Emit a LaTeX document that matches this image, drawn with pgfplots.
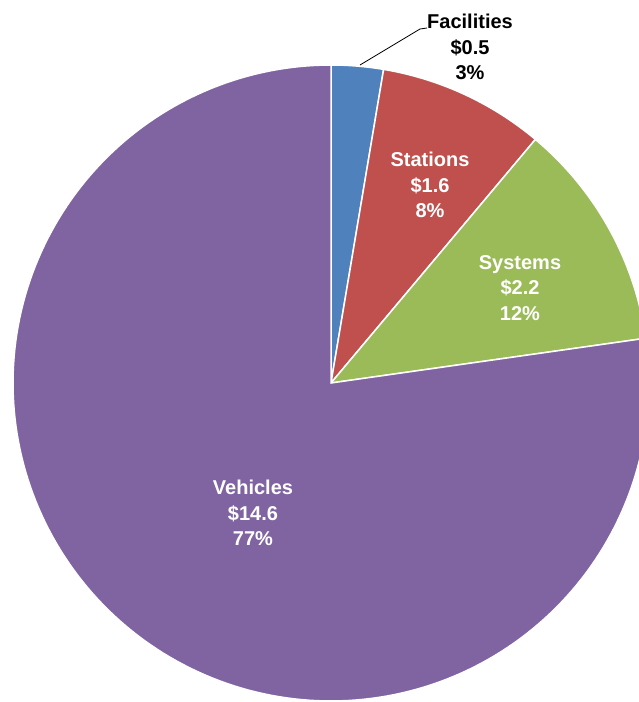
\documentclass[border=0pt]{standalone}
\usepackage{pgfplots}
\pgfplotsset{compat=1.18}
\usepackage{pgfplotstable}
\usepackage{fontspec}
\setmainfont{Liberation Sans}
\definecolor{cFac}{HTML}{4F81BD}
\definecolor{cSta}{HTML}{C0504D}
\definecolor{cSys}{HTML}{9BBB59}
\definecolor{cVeh}{HTML}{8064A2}
\pgfplotstableread{
label value
Facilities 0.5
Stations 1.6
Systems 2.2
Vehicles 14.6
}\piedata
\pgfplotstablegetelem{0}{value}\of\piedata \edef\vA{\pgfplotsretval}
\pgfplotstablegetelem{1}{value}\of\piedata \edef\vB{\pgfplotsretval}
\pgfplotstablegetelem{2}{value}\of\piedata \edef\vC{\pgfplotsretval}
\pgfplotstablegetelem{3}{value}\of\piedata \edef\vD{\pgfplotsretval}
\pgfmathsetmacro{\tot}{\vA+\vB+\vC+\vD}
\pgfmathsetmacro{\aA}{90}
\pgfmathsetmacro{\aB}{\aA-360*\vA/\tot}
\pgfmathsetmacro{\aC}{\aB-360*\vB/\tot}
\pgfmathsetmacro{\aD}{\aC-360*\vC/\tot}
\pgfmathsetmacro{\aE}{\aD-360*\vD/\tot}
\begin{document}
\begin{tikzpicture}
\begin{axis}[
  scale only axis, width=639pt, height=702pt,
  xmin=0, xmax=639, ymin=0, ymax=702,
  hide axis, clip=true,
]
\addplot[fill=cFac, draw=white, line width=1.5pt, domain=\aB:\aA, samples=40]
  ({331+318*cos(x)},{319+318*sin(x)}) -- (331,319) -- cycle;
\addplot[fill=cSta, draw=white, line width=1.5pt, domain=\aC:\aB, samples=60]
  ({331+318*cos(x)},{319+318*sin(x)}) -- (331,319) -- cycle;
\addplot[fill=cSys, draw=white, line width=1.5pt, domain=\aD:\aC, samples=60]
  ({331+318*cos(x)},{319+318*sin(x)}) -- (331,319) -- cycle;
\addplot[fill=cVeh, draw=white, line width=1.5pt, domain=\aE:\aD, samples=200]
  ({331+318*cos(x)},{319+318*sin(x)}) -- (331,319) -- cycle;
\draw[black, line width=0.8pt] (360,637) -- (420,673) -- (427,674);
\tikzset{lab/.style={align=center, font=\fontsize{20}{25.5}\selectfont\bfseries, inner sep=0pt}}
\node[lab, black] at (470,655) {Facilities\\\$0.5\\3\%};
\node[lab, white] at (430,517) {Stations\\\$1.6\\8\%};
\node[lab, white] at (520,414) {Systems\\\$2.2\\12\%};
\node[lab, white] at (253,189) {Vehicles\\\$14.6\\77\%};
\end{axis}
\pgfresetboundingbox
\path[use as bounding box] (current axis.south west) rectangle (current axis.north east);
\end{tikzpicture}
\end{document}
